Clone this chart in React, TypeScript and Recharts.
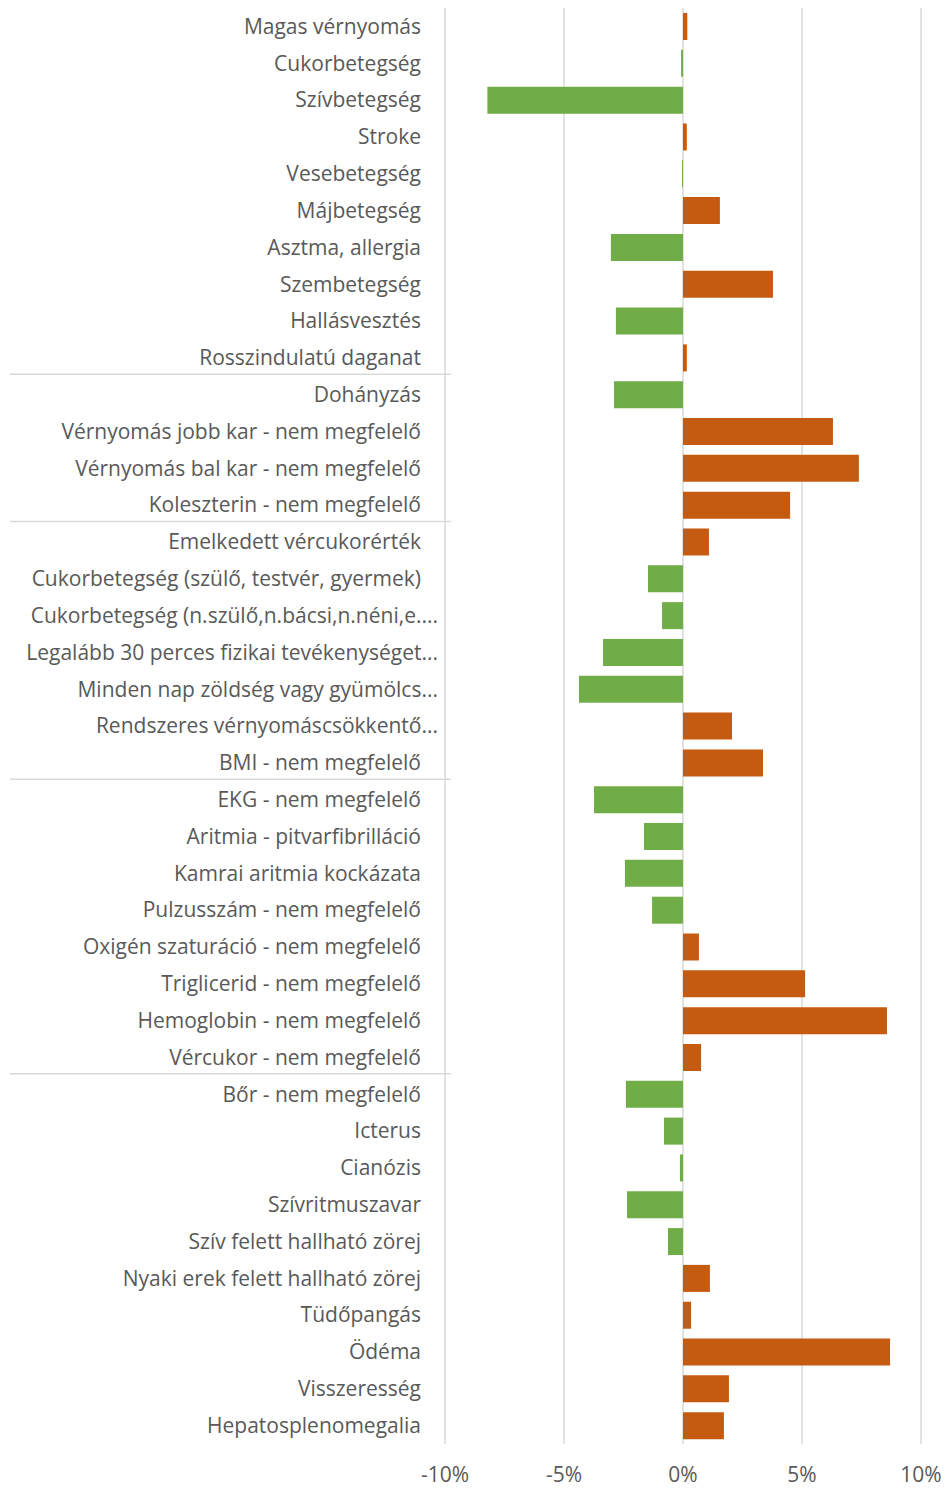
import React from "react";
import { BarChart, Bar, XAxis, YAxis, CartesianGrid, Cell } from "recharts";

const categories = [
  "Magas vérnyomás",
  "Cukorbetegség",
  "Szívbetegség",
  "Stroke",
  "Vesebetegség",
  "Májbetegség",
  "Asztma, allergia",
  "Szembetegség",
  "Hallásvesztés",
  "Rosszindulatú daganat",
  "Dohányzás",
  "Vérnyomás jobb kar - nem megfelelő",
  "Vérnyomás bal kar - nem megfelelő",
  "Koleszterin - nem megfelelő",
  "Emelkedett vércukorérték",
  "Cukorbetegség (szülő, testvér, gyermek)",
  "Cukorbetegség (n.szülő,n.bácsi,n.néni,e....",
  "Legalább 30 perces fizikai tevékenységet...",
  "Minden nap zöldség vagy gyümölcs...",
  "Rendszeres vérnyomáscsökkentő...",
  "BMI - nem megfelelő",
  "EKG - nem megfelelő",
  "Aritmia - pitvarfibrilláció",
  "Kamrai aritmia kockázata",
  "Pulzusszám - nem megfelelő",
  "Oxigén szaturáció - nem megfelelő",
  "Triglicerid - nem megfelelő",
  "Hemoglobin - nem megfelelő",
  "Vércukor - nem megfelelő",
  "Bőr - nem megfelelő",
  "Icterus",
  "Cianózis",
  "Szívritmuszavar",
  "Szív felett hallható zörej",
  "Nyaki erek felett hallható zörej",
  "Tüdőpangás",
  "Ödéma",
  "Visszeresség",
  "Hepatosplenomegalia",
];

// difference, as a fraction
const values = [
  0.0018, -0.0008, -0.0822, 0.0016, -0.0004, 0.0155, -0.0303, 0.0378, -0.0282, 0.0016,
  -0.029, 0.063, 0.0739, 0.045, 0.0109, -0.0147, -0.0088, -0.0336, -0.0437, 0.0206,
  0.0336, -0.0374, -0.0164, -0.0244, -0.013, 0.0067, 0.0513, 0.0857, 0.0076, -0.024,
  -0.008, -0.0013, -0.0235, -0.0063, 0.0113, 0.0034, 0.087, 0.0193, 0.0172,
];

// first category of each new group (separator drawn above it)
const groupStarts = [10, 14, 21, 29];

const xTicks = [-0.1, -0.05, 0, 0.05, 0.1];

const data = categories.map((name, i) => ({ name, value: values[i] }));

const FONT = "'Open Sans', sans-serif";
const BAND = (1444 - 8) / categories.length;

const CategoryTick = (props: any) => {
  const { y, payload, index } = props;
  const label: string = payload.value;
  const truncated = label.endsWith("...");
  return (
    <g>
      <text
        x={truncated ? 438 : 421}
        y={y}
        dy="0.35em"
        textAnchor="end"
        fill="#595959"
        fontSize={21}
        fontFamily={FONT}
      >
        {label}
      </text>
      {groupStarts.includes(index) && (
        <line x1={10} x2={451} y1={y - BAND / 2 - 2} y2={y - BAND / 2 - 2} stroke="#d9d9d9" strokeWidth={1.5} />
      )}
    </g>
  );
};

export default function App() {
  return (
    <div style={{ position: "absolute", left: 0, top: 0 }}>
      <BarChart
        width={946}
        height={1488}
        data={data}
        layout="vertical"
        margin={{ top: 8, right: 25, bottom: 0, left: 0 }}
        barSize={27}
      >
        <CartesianGrid horizontal={false} stroke="#d9d9d9" strokeWidth={1.5} />
        <XAxis
          type="number"
          domain={[-0.1, 0.1]}
          ticks={xTicks}
          tickFormatter={(v: number) => `${Math.round(v * 100)}%`}
          axisLine={false}
          tickLine={false}
          height={44}
          tickMargin={17}
          tick={{ fill: "#595959", fontSize: 21, fontFamily: FONT }}
          allowDataOverflow
        />
        <YAxis
          type="category"
          dataKey="name"
          width={445}
          axisLine={false}
          tickLine={false}
          interval={0}
          tick={<CategoryTick />}
        />
        <Bar dataKey="value" isAnimationActive={false}>
          {data.map((d, i) => (
            <Cell key={i} fill={d.value >= 0 ? "#c55a11" : "#70ad47"} />
          ))}
        </Bar>
      </BarChart>
    </div>
  );
}
